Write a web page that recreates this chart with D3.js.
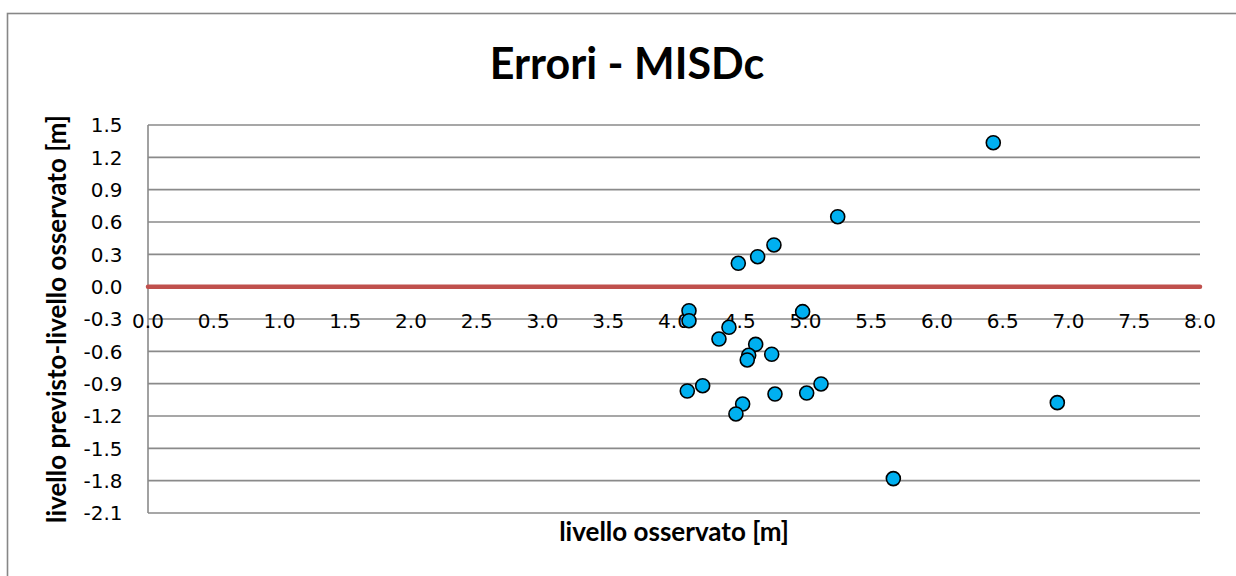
<!DOCTYPE html>
<html>
<head>
<meta charset="utf-8">
<script src="https://cdn.jsdelivr.net/npm/d3@7/dist/d3.min.js"></script>
<style>
  html, body { margin: 0; padding: 0; background: #ffffff; }
  svg { display: block; }
</style>
</head>
<body>
<svg id="chart" width="1236" height="576"></svg>
<script>
// Observed level [m] and forecast-minus-observed error [m] for each event
const observedLevel = [4.489, 4.636, 4.760, 4.114, 4.114, 4.978, 4.418, 4.342, 4.621, 4.568,
                       4.557, 4.743, 4.218, 4.101, 5.118, 5.009, 4.768, 4.522, 4.471,
                       6.428, 5.245, 6.915, 5.668];
const levelError    = [0.217, 0.278, 0.387, -0.223, -0.316, -0.232, -0.377, -0.486, -0.535, -0.637,
                       -0.680, -0.627, -0.919, -0.968, -0.903, -0.987, -0.996, -1.089, -1.181,
                       1.336, 0.649, -1.076, -1.781];

const xTicks = [0, 0.5, 1, 1.5, 2, 2.5, 3, 3.5, 4, 4.5, 5, 5.5, 6, 6.5, 7, 7.5, 8];
const xTickLabels = ["0.0","0.5","1.0","1.5","2.0","2.5","3.0","3.5","4.0","4.5","5.0","5.5","6.0","6.5","7.0","7.5","8.0"];
const yTicks = [1.5, 1.2, 0.9, 0.6, 0.3, 0, -0.3, -0.6, -0.9, -1.2, -1.5, -1.8, -2.1];
const yTickLabels = ["1.5","1.2","0.9","0.6","0.3","0.0","-0.3","-0.6","-0.9","-1.2","-1.5","-1.8","-2.1"];
const zeroLine = [0, 8];   // reference line: zero error across the whole x range
const xCross = -0.3;       // level at which the horizontal axis labels sit

const titleText = "Errori - MISDc";
const xTitle = "livello osservato [m]";
const yTitle = "livello previsto-livello osservato [m]";

const svg = d3.select("#chart");
const plot = { left: 148, right: 1200, top: 125, bottom: 513 };

const x = d3.scaleLinear().domain([0, 8]).range([plot.left, plot.right]);
const y = d3.scaleLinear().domain([-2.1, 1.5]).range([plot.bottom, plot.top]);

const gridColor = "#8a8a8a";
const tickFont = "'DejaVu Sans', sans-serif";
const titleFont = "Lato, 'Open Sans', sans-serif";

// Chart frame
svg.append("rect")
  .attr("x", 7.5).attr("y", 13.5)
  .attr("width", 1260).attr("height", 600)
  .attr("fill", "none")
  .attr("stroke", "#878787")
  .attr("stroke-width", 1.6);

// Horizontal gridlines
svg.append("g")
  .selectAll("line")
  .data(yTicks)
  .join("line")
  .attr("x1", plot.left).attr("x2", plot.right)
  .attr("y1", d => y(d)).attr("y2", d => y(d))
  .attr("stroke", gridColor)
  .attr("stroke-width", 1.6);

// Vertical axis line
svg.append("line")
  .attr("x1", plot.left).attr("x2", plot.left)
  .attr("y1", plot.top).attr("y2", plot.bottom)
  .attr("stroke", gridColor)
  .attr("stroke-width", 1.6);

// Vertical axis labels
svg.append("g")
  .selectAll("text")
  .data(yTicks)
  .join("text")
  .attr("x", 122.5)
  .attr("y", d => y(d))
  .attr("dy", "0.36em")
  .attr("text-anchor", "end")
  .attr("font-family", tickFont)
  .attr("font-size", 20)
  .attr("fill", "#000")
  .text((d, i) => yTickLabels[i]);

// Horizontal axis labels, placed on the -0.3 line
svg.append("g")
  .selectAll("text")
  .data(xTicks)
  .join("text")
  .attr("x", d => x(d))
  .attr("y", y(xCross) + 2)
  .attr("dy", "0.36em")
  .attr("text-anchor", "middle")
  .attr("font-family", tickFont)
  .attr("font-size", 20)
  .attr("fill", "#000")
  .text((d, i) => xTickLabels[i]);

// Zero-error line
svg.append("line")
  .attr("x1", x(zeroLine[0])).attr("x2", x(zeroLine[1]))
  .attr("y1", y(0)).attr("y2", y(0))
  .attr("stroke", "#C0504D")
  .attr("stroke-width", 4.5)
  .attr("stroke-linecap", "round");

// Error points
svg.append("g")
  .selectAll("circle")
  .data(observedLevel.map((v, i) => [v, levelError[i]]))
  .join("circle")
  .attr("cx", d => x(d[0]))
  .attr("cy", d => y(d[1]))
  .attr("r", 7)
  .attr("fill", "#00B0F0")
  .attr("stroke", "#000")
  .attr("stroke-width", 1.6);

// Titles
svg.append("text")
  .attr("x", 627).attr("y", 79)
  .attr("text-anchor", "middle")
  .attr("font-family", titleFont)
  .attr("font-weight", "bold")
  .attr("font-size", 43)
  .attr("fill", "#000")
  .text(titleText);

svg.append("text")
  .attr("x", (plot.left + plot.right) / 2).attr("y", 541)
  .attr("text-anchor", "middle")
  .attr("font-family", titleFont)
  .attr("font-weight", "bold")
  .attr("font-size", 26)
  .attr("fill", "#000")
  .text(xTitle);

svg.append("text")
  .attr("transform", `translate(66, ${(plot.top + plot.bottom) / 2}) rotate(-90)`)
  .attr("text-anchor", "middle")
  .attr("font-family", titleFont)
  .attr("font-weight", "bold")
  .attr("font-size", 26)
  .attr("fill", "#000")
  .text(yTitle);
</script>
</body>
</html>
